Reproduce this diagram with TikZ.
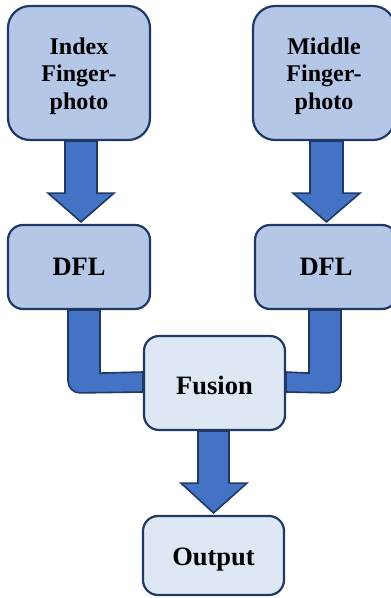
\documentclass[tikz,border=0pt]{standalone}
\usepackage{fontspec}
\setmainfont{Liberation Serif}
\newfontfamily\tnr{Liberation Serif}
\usetikzlibrary{calc,backgrounds}
\definecolor{boxfill}{HTML}{B4C7E7}
\definecolor{lightfill}{HTML}{DEE8F5}
\definecolor{arrowfill}{HTML}{4472C4}
\definecolor{edge}{HTML}{203864}
\newcommand{\dropby}[2]{\raisebox{-#1}[\height][\depth]{#2}}
\tikzset{
  bigbox/.style={draw=edge, line width=2.2pt, fill=boxfill, rounded corners=22pt, align=center,
    font=\tnr\fontsize{24}{27.5}\selectfont\bfseries, inner sep=0pt},
  midbox/.style={draw=edge, line width=2.2pt, fill=boxfill, rounded corners=15pt,
    font=\tnr\fontsize{26.5}{30}\selectfont\bfseries, inner sep=0pt},
  litebox/.style={midbox, fill=lightfill},
  blockarrow/.style={draw=edge, line width=1.6pt, fill=arrowfill, line join=miter},
}
\begin{document}
\begin{tikzpicture}[x=1pt,y=-1pt]
\useasboundingbox (0,0) rectangle (391,598);
\node[bigbox, minimum width=142pt, minimum height=134pt] (idx) at (79,73) {\dropby{3pt}{\begin{tabular}{@{}c@{}}Index\\Finger-\\photo\end{tabular}}};
\node[bigbox, minimum width=142pt, minimum height=134pt] (mid) at (324,73) {\dropby{3pt}{\begin{tabular}{@{}c@{}}Middle\\Finger-\\photo\end{tabular}}};
\node[midbox, minimum width=142pt, minimum height=84pt] (dfl1) at (79,267) {DFL};
\node[midbox, minimum width=142pt, minimum height=84pt] (dfl2) at (326,267) {DFL};
\node[litebox, minimum width=141pt, minimum height=94pt] (fus) at (214.5,383) {\dropby{2pt}{Fusion}};
\node[litebox, minimum width=141pt, minimum height=79pt] (out) at (213.5,555.5) {\dropby{4pt}{Output}};
\begin{pgfonlayer}{background}
  % index -> dfl1
  \draw[blockarrow] ($(idx.south)+(-14,0)$) -- ($(idx.south)+(-14,52)$) -- ($(idx.south)+(-31,52)$)
     -- ($(dfl1.north)+(2,-2)$) -- ($(idx.south)+(35,52)$) -- ($(idx.south)+(18,52)$) -- ($(idx.south)+(18,0)$) -- cycle;
  % mid -> dfl2
  \draw[blockarrow] ($(mid.south)+(-14,0)$) -- ($(mid.south)+(-14,52)$) -- ($(mid.south)+(-31,52)$)
     -- ($(dfl2.north)+(0.5,-2)$) -- ($(mid.south)+(36,52)$) -- ($(mid.south)+(19,52)$) -- ($(mid.south)+(19,0)$) -- cycle;
  % dfl1 -> fusion elbow
  \draw[blockarrow, rounded corners=0pt] ($(dfl1.south)+(-11,0)$) -- ($(dfl1.south)+(-11,70)$)
     [rounded corners=12pt] -- ($(dfl1.south)+(-11,83)$) [rounded corners=0pt] -- ($(fus.west)+(0,9)$)
     -- ($(fus.west)+(0,-11)$) -- ($(dfl1.south)+(21,63)$) -- ($(dfl1.south)+(21,0)$) -- cycle;
  % dfl2 -> fusion elbow
  \draw[blockarrow, rounded corners=0pt] ($(dfl2.south)+(15,0)$) -- ($(dfl2.south)+(15,70)$)
     [rounded corners=12pt] -- ($(dfl2.south)+(15,83)$) [rounded corners=0pt] -- ($(fus.east)+(0,9)$)
     -- ($(fus.east)+(0,-11)$) -- ($(dfl2.south)+(-17,63)$) -- ($(dfl2.south)+(-17,0)$) -- cycle;
  % fusion -> output
  \draw[blockarrow] ($(fus.south)+(-16.5,0)$) -- ($(fus.south)+(-16.5,52)$) -- ($(fus.south)+(-33.5,52)$)
     -- ($(out.north)+(0,-2)$) -- ($(fus.south)+(32.5,52)$) -- ($(fus.south)+(14.5,52)$) -- ($(fus.south)+(14.5,0)$) -- cycle;
\end{pgfonlayer}
\end{tikzpicture}
\end{document}
